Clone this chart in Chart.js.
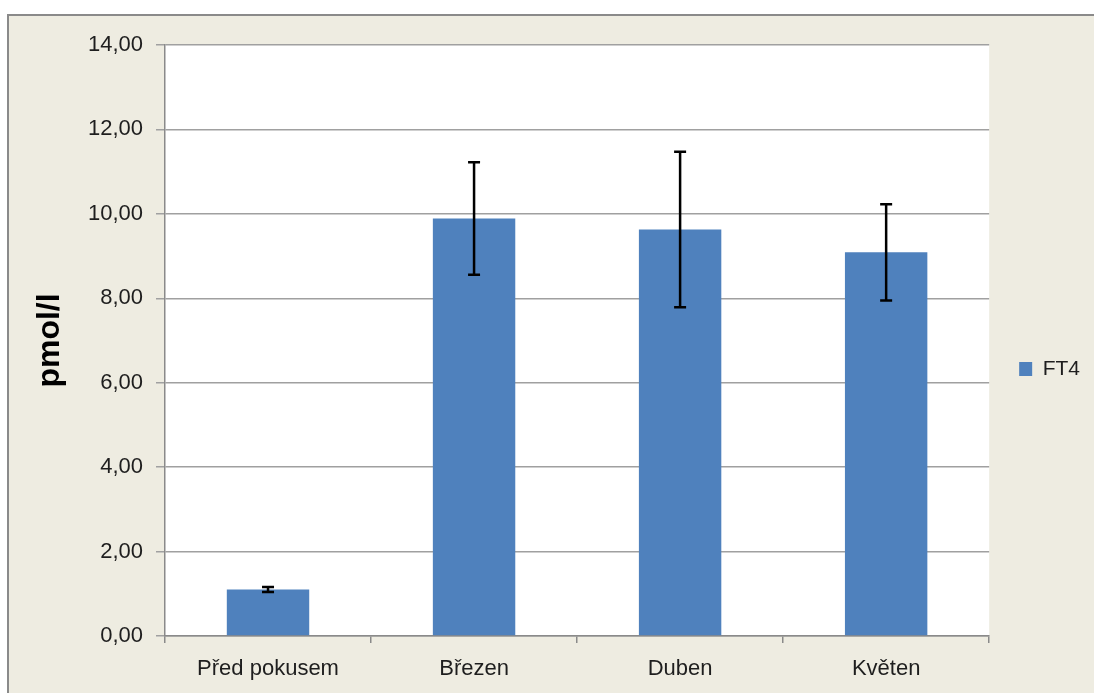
<!DOCTYPE html>
<html>
<head>
<meta charset="utf-8">
<script src="https://cdn.jsdelivr.net/npm/chart.js@4.4.1/dist/chart.umd.min.js"></script>
<style>
  html, body { margin: 0; padding: 0; background: #ffffff; overflow: hidden; }
  #ramecek {
    position: absolute; left: 7px; top: 14px;
    width: 1090px; height: 682px;
    border-top: 2px solid #8a8a8a; border-left: 2px solid #8a8a8a;
    background: #EEECE1;
  }
  #ramecek canvas { position: absolute; left: 0; top: 0; }
</style>
</head>
<body>
<div id="ramecek"><canvas id="graf" width="1085" height="677"></canvas></div>
<script>
// hodnoty FT4 (pmol/l) a smerodatne odchylky
var kategorie = ['Před pokusem', 'Březen', 'Duben', 'Květen'];
var hodnoty = [1.10, 9.89, 9.63, 9.09];
var odchylky = [0.06, 1.33, 1.84, 1.14];
var osaY = [0, 2, 4, 6, 8, 10, 12, 14];

// bila plocha grafu
var bilePozadi = {
    id: 'bilePozadi',
    beforeDraw: function (chart) {
        var a = chart.chartArea;
        chart.ctx.save();
        chart.ctx.fillStyle = '#ffffff';
        chart.ctx.fillRect(a.left, a.top, a.right - a.left, a.bottom - a.top);
        chart.ctx.restore();
    }
};

// chybove usecky nad sloupci
var chyboveUsecky = {
    id: 'chyboveUsecky',
    afterDatasetsDraw: function (chart) {
        var meta = chart.getDatasetMeta(0);
        var y = chart.scales.y;
        var ctx = chart.ctx;
        ctx.save();
        ctx.strokeStyle = '#000000';
        ctx.lineWidth = 2.5;
        meta.data.forEach(function (bar, i) {
            var horni = y.getPixelForValue(hodnoty[i] + odchylky[i]);
            var dolni = y.getPixelForValue(hodnoty[i] - odchylky[i]);
            ctx.beginPath();
            ctx.moveTo(bar.x, horni);
            ctx.lineTo(bar.x, dolni);
            ctx.moveTo(bar.x - 6, horni);
            ctx.lineTo(bar.x + 6, horni);
            ctx.moveTo(bar.x - 6, dolni);
            ctx.lineTo(bar.x + 6, dolni);
            ctx.stroke();
        });
        ctx.restore();
    }
};

var ctx = document.getElementById('graf').getContext('2d');
var myChart = new Chart(ctx, {
    type: 'bar',
    data: {
        labels: kategorie,
        datasets: [{
            label: 'FT4',
            data: hodnoty,
            backgroundColor: '#4F81BD',
            borderWidth: 0,
            barPercentage: 0.4,
            categoryPercentage: 1.0
        }]
    },
    options: {
        responsive: false,
        animation: false,
        layout: {
            padding: { top: 29, right: 4, bottom: 0, left: 0 }
        },
        scales: {
            x: {
                offset: true,
                grid: {
                    offset: true,
                    drawOnChartArea: false,
                    color: '#8a8a8a',
                    lineWidth: 1.5,
                    tickLength: 7
                },
                border: { color: '#8a8a8a', width: 1.5 },
                ticks: {
                    color: '#1e1e1e',
                    padding: 13,
                    font: { family: 'Liberation Sans', size: 22 }
                },
                afterFit: function (scale) { scale.height = 57; }
            },
            y: {
                min: 0,
                max: 14,
                afterBuildTicks: function (scale) {
                    scale.ticks = osaY.map(function (v) { return { value: v }; });
                },
                grid: {
                    color: '#a0a0a0',
                    lineWidth: 1.5,
                    tickLength: 9
                },
                border: { color: '#8a8a8a', width: 1.5 },
                ticks: {
                    color: '#1e1e1e',
                    padding: 13,
                    font: { family: 'Liberation Sans', size: 22 },
                    callback: function (v) { return v.toFixed(2).replace('.', ','); }
                },
                title: {
                    display: true,
                    text: 'pmol/l',
                    color: '#000000',
                    padding: { top: 22, bottom: 0 },
                    font: { family: 'Liberation Sans', size: 32, weight: 'bold' }
                },
                afterFit: function (scale) { scale.width = 156; }
            }
        },
        plugins: {
            legend: {
                display: true,
                position: 'right',
                labels: {
                    boxWidth: 13,
                    boxHeight: 14,
                    padding: 30,
                    color: '#1e1e1e',
                    font: { family: 'Liberation Sans', size: 21 }
                }
            },
            tooltip: { enabled: false }
        }
    },
    plugins: [bilePozadi, chyboveUsecky]
});
</script>
</body>
</html>
